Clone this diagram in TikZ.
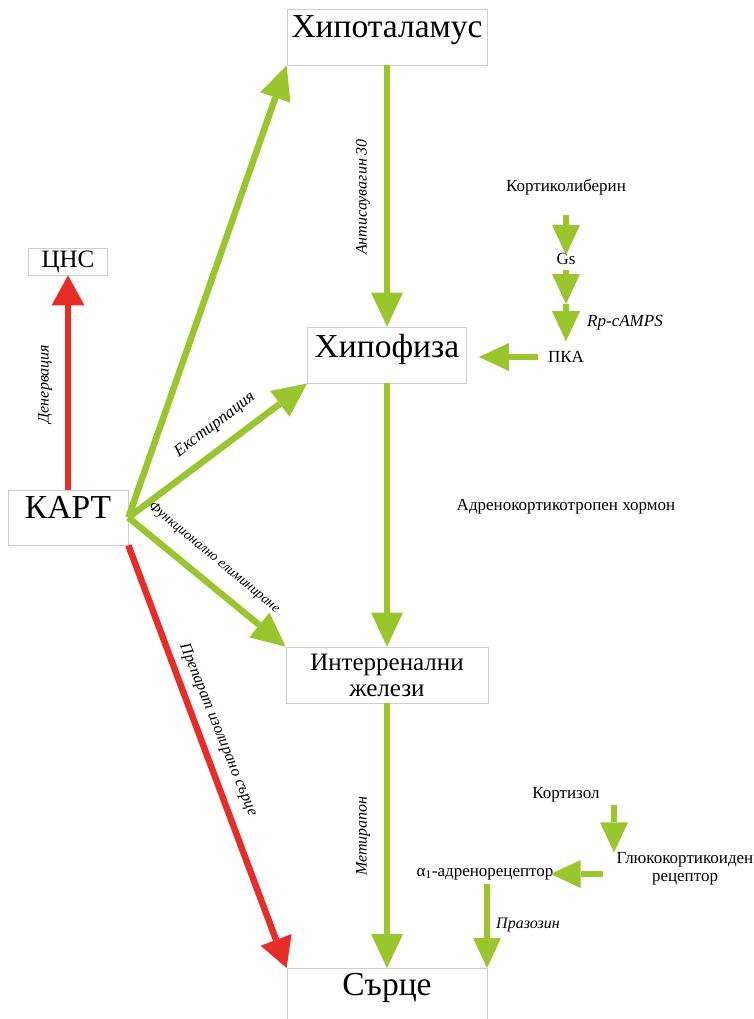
\documentclass[tikz,border=0pt]{standalone}
\usepackage{fontspec}
\setmainfont{Liberation Serif}
\usetikzlibrary{arrows.meta}
\definecolor{grn}{RGB}{155,197,45}
\definecolor{rd}{RGB}{230,45,40}
\definecolor{boxgray}{RGB}{205,205,205}
\begin{document}
\begin{tikzpicture}[x=1pt,y=-1pt,
  box/.style={draw=boxgray,line width=0.8pt,inner sep=0pt,align=center},
  bigfont/.style={font=\fontsize{33.5}{36}\selectfont},
  garr/.style={draw=grn,line width=6.5pt,-{Triangle[width=32pt,length=34pt,line width=0pt]}},
  rarr/.style={draw=rd,line width=6.5pt,-{Triangle[width=33pt,length=30pt,line width=0pt]}},
  sarr/.style={draw=grn,line width=6pt,-{Triangle[width=28pt,length=30pt,line width=0pt]}},
  lbl/.style={font=\fontsize{16}{18}\selectfont\itshape,inner sep=0pt},
  small/.style={font=\fontsize{17}{19}\selectfont,inner sep=0pt,align=center}
]
\useasboundingbox (0,0) rectangle (754,1019);
\clip (0,0) rectangle (754,1019);

% boxes
\node[box,bigfont,minimum width=200pt,minimum height=56pt,text height=23pt,text depth=22pt] (hipot) at (387,37) {Хипоталамус};
\node[box,bigfont,minimum width=159pt,minimum height=56pt,text height=23pt,text depth=19pt] (hipof) at (387,355) {Хипофиза};
\node[box,font=\fontsize{25}{26}\selectfont,minimum width=202pt,minimum height=56pt] (inter) at (387,675) {Интерренални\\желези};
\node[box,bigfont,anchor=north,minimum width=200pt,text height=22pt,text depth=45pt,inner ysep=5pt] (sarce) at (387,968) {Сърце};
\node[box,bigfont,minimum width=120pt,minimum height=55pt,text height=23pt,text depth=21pt] (kart) at (68,517.5) {КАРТ};
\node[box,font=\fontsize{25}{26}\selectfont,minimum width=79pt,minimum height=27pt] (cns) at (68,261.5) {ЦНС};

% main arrows
\draw[garr] (hipot.south) -- (hipof.north);
\draw[garr] (hipof.south) -- (inter.north);
\draw[garr] (inter.south) -- (sarce.north);
\draw[rarr] (kart.north) -- (cns.south);
\draw[garr] (kart.east) -- (hipot.south west);
\draw[garr] (kart.east) -- (hipof.south west);
\draw[garr] (kart.east) -- (inter.north west);
\draw[rarr] (kart.south east) -- (sarce.north west);

% labels of main arrows
\node[lbl,rotate=90] (l1) at (363,197) {Антисаувагин 30};
\node[lbl,rotate=90] (l2) at (363,836) {Метирапон};
\node[lbl,rotate=90] (l3) at (45,384) {Денервация};
\node[lbl,rotate=37,font=\fontsize{17}{19}\selectfont\itshape] (l4) at (215,425) {Екстирпация};
\node[lbl,rotate=-39.5,font=\fontsize{14}{16}\selectfont\itshape] (l5) at (214,558) {Функционално елиминиране};
\node[lbl,rotate=-68,font=\fontsize{16}{18}\selectfont\itshape] (l6) at (218,730) {Препарат изолирано сърце};

% upper right cascade
\node[small] (kort) at (566,187) {Кортиколиберин};
\node[small] (gs) at (566,259) {Gs};
\coordinate (gsmid) at (566,304);
\node[small] (pka) at (566,357) {ПКА};
\node[lbl,font=\fontsize{17}{19}\selectfont\itshape] (rp) at (625,323) {Rp-cAMPS};
\draw[sarr,shorten <=20pt,shorten >=-2pt] (kort.south) -- (gs.north);
\draw[sarr,shorten <=5pt] (gs.south) -- (gsmid);
\draw[sarr,shorten >=10pt] (gsmid) -- (pka.north);
\draw[sarr,shorten <=10pt,shorten >=12pt] (pka.west) -- (pka.west -| hipof.east);

\node[small] (acth) at (566,507) {Адренокортикотропен хормон};

% lower right cascade
\node[small] (kortizol) at (566,795) {Кортизол};
\node[small,font=\fontsize{17}{18}\selectfont] (glu) at (685,869) {Глюкокортикоиден\\рецептор};
\node[small] (alpha) at (485,874) {α\textsubscript{1}-адренорецептор};
\node[lbl] (praz) at (528,925) {Празозин};
\coordinate (kz) at (614,805);
\draw[sarr] (kz) -- (kz |- glu.north);
\draw[sarr,shorten <=14pt,shorten >=-3pt] (alpha.east -| glu.west) -- (alpha.east);
\draw[sarr,shorten <=4pt] ([xshift=2pt]alpha.south) -- ([xshift=2pt]alpha.south |- sarce.north);
\end{tikzpicture}
\end{document}
